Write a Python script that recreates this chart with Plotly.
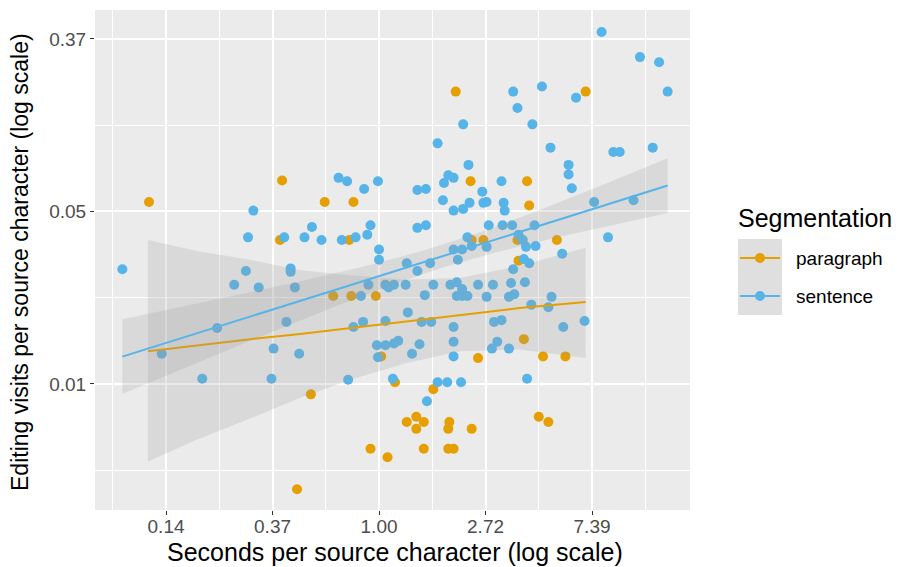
import numpy as np
import plotly.graph_objects as go

# Natural-log values (axes use a log transform)
sent_log_sec = [-2.41, -2.04, -1.66, -1.52, -1.36, -1.25, -1.23, -1.18, -1.13, -1.01,
                -0.99, -0.87, -0.83, -0.83, -0.89, -0.79, -0.75, -0.70, -0.63, -0.54,
                -0.38, -0.30, -0.35, -0.29, -0.24, -0.22, -0.17, -0.14, -0.11, -0.10,
                -0.08, -0.15, -0.01, 0.00, 0.00, -0.01, -0.02, 0.06, 0.06, 0.09,
                0.14, 0.06, 0.14, 0.13, 0.18, 0.25, 0.26, 0.27, 0.31, 0.36,
                0.44, 0.36, 0.44, 0.36, 0.38, 0.40, 0.49, 0.43, 0.45, 0.48,
                0.51, 0.55, 0.55, 0.60, 0.61, 0.65, 0.70, 0.64, 0.67, 0.73,
                0.70, 0.79, 0.70, 0.78, 0.74, 0.78, 0.73, 0.78, 0.83, 0.70,
                0.70, 0.70, 0.77, 0.79, 0.84, 0.83, 0.87, 0.85, 0.93, 0.97,
                0.98, 1.01, 1.01, 1.01, 1.03, 1.07, 1.08, 1.15, 1.11, 1.06,
                1.15, 1.17, 1.18, 1.16, 1.25, 1.22, 1.27, 1.22, 1.24, 1.26,
                1.26, 1.30, 1.31, 1.35, 1.36, 1.41, 1.37, 1.38, 1.47, 1.46,
                1.44, 1.39, 1.43, 1.53, 1.61, 1.59, 1.62, 1.72, 1.73, 1.78,
                1.78, 1.81, 1.85, 1.93, 2.02, 2.09, 2.15, 2.20, 2.26, 2.39,
                2.45, 2.57, 2.63, 2.71]
sent_log_visits = [-3.67, -4.65, -4.94, -4.35, -3.85, -3.69, -3.30, -2.99, -3.88, -4.94,
                   -4.59, -4.28, -3.66, -3.70, -3.30, -3.88, -4.65, -3.30, -3.18, -3.33,
                   -2.61, -2.65, -3.33, -4.95, -4.34, -3.30, -3.98, -2.74, -3.27, -3.85,
                   -3.16, -4.28, -2.65, -3.44, -3.56, -4.69, -4.55, -4.55, -3.85, -3.88,
                   -3.85, -4.27, -4.53, -4.94, -4.50, -3.85, -3.60, -4.17, -4.65, -2.75,
                   -2.74, -3.19, -3.16, -3.69, -4.54, -4.28, -4.28, -3.97, -5.20, -3.60,
                   -3.85, -2.21, -4.98, -2.87, -2.67, -2.58, -2.61, -4.98, -3.85, -3.82,
                   -2.99, -2.97, -3.44, -3.44, -3.56, -3.90, -3.98, -3.98, -3.98, -4.34,
                   -4.51, -4.68, -4.98, -1.99, -2.46, -3.30, -3.40, -2.90, -3.85, -2.77,
                   -2.90, -2.89, -3.99, -3.41, -3.16, -3.85, -4.28, -4.26, -4.51, -4.59,
                   -2.65, -2.90, -2.99, -3.16, -3.16, -3.99, -3.96, -4.59, -3.83, -3.67,
                   -1.61, -1.80, -3.27, -3.33, -3.55, -3.60, -3.82, -3.41, -3.40, -3.16,
                   -1.99, -4.94, -4.08, -1.55, -2.26, -4.11, -3.99, -3.49, -4.34, -2.46,
                   -2.57, -2.73, -1.68, -4.27, -2.89, -0.92, -3.30, -2.31, -2.31, -2.87,
                   -1.21, -2.26, -1.27, -1.61]

para_log_sec = [-2.16, -0.91, -0.93, -0.51, -0.24, -0.28, -0.43, -0.26, -0.03, -0.64,
                -0.77, -0.08, 0.08, 0.02, 0.15, 0.51, 0.26, 0.35, 0.42, 0.35,
                0.66, 0.65, 0.87, 0.42, 0.65, 0.70, 0.72, 0.86, 1.39, 1.41,
                0.87, 0.98, 1.30, 1.31, 1.36, 0.93, 1.54, 1.75, 1.50, 1.59,
                1.67, 1.94]
para_log_visits = [-2.89, -2.64, -3.33, -2.89, -2.89, -3.33, -3.98, -3.98, -3.98, -5.12,
                   -6.22, -5.75, -5.85, -4.68, -4.98, -5.06, -5.44, -5.38, -5.44, -5.52,
                   -5.44, -5.52, -5.52, -5.75, -5.75, -5.75, -1.61, -2.65, -2.65, -2.93,
                   -3.33, -3.33, -3.33, -3.57, -4.48, -4.70, -4.68, -4.68, -5.38, -5.44,
                   -3.33, -1.61]

# Paragraph smoother (fit line and 95% band)
para_fit_x = [-2.17, -1.70, -1.21, -0.74, -0.27, 0.25, 0.76, 1.32, 1.94]
para_fit_mid = [-4.62, -4.55, -4.48, -4.42, -4.35, -4.28, -4.20, -4.12, -4.05]
para_fit_lo = [-5.90, -5.64, -5.40, -5.16, -4.95, -4.76, -4.62, -4.60, -4.70]
para_fit_hi = [-3.33, -3.46, -3.56, -3.68, -3.74, -3.79, -3.77, -3.63, -3.42]

x_tick_vals = [-2, -1, 0, 1, 2]
x_tick_labels = ["0.14", "0.37", "1.00", "2.72", "7.39"]
y_tick_vals = [-5, -3, -1]
y_tick_labels = ["0.01", "0.05", "0.37"]
legend_labels = ["paragraph", "sentence"]

PARA_COLOR = "#E69F00"
SENT_COLOR = "#56B4E9"
RIBBON = "rgba(153,153,153,0.22)"
FONT = "Liberation Sans, Arial, sans-serif"

OFF = 8  # page body margin of the rendered page
W, H = 906 - OFF, 567 - OFF
L, R, T, B = 95 - OFF, 690 - OFF, 10 - OFF, 510 - OFF


def t975(df):
    z = 1.959964
    return z + (z**3 + z) / (4 * df) + (5 * z**5 + 16 * z**3 + 3 * z) / (96 * df**2)


def lm_band(x, y, n=80):
    x = np.asarray(x, float)
    y = np.asarray(y, float)
    b, a = np.polyfit(x, y, 1)
    xs = np.linspace(x.min(), x.max(), n)
    yhat = a + b * xs
    resid = y - (a + b * x)
    s = np.sqrt((resid ** 2).sum() / (len(x) - 2))
    sxx = ((x - x.mean()) ** 2).sum()
    se = s * np.sqrt(1 / len(x) + (xs - x.mean()) ** 2 / sxx)
    t = t975(len(x) - 2)
    return xs, yhat, yhat - t * se, yhat + t * se


fig = go.Figure()
fig.add_trace(go.Scatter(x=para_log_sec, y=para_log_visits, mode="markers",
                         marker=dict(color=PARA_COLOR, size=10, line=dict(width=0)),
                         showlegend=False))
fig.add_trace(go.Scatter(x=sent_log_sec, y=sent_log_visits, mode="markers",
                         marker=dict(color=SENT_COLOR, size=10, line=dict(width=0)),
                         showlegend=False))

# paragraph smoother
fig.add_trace(go.Scatter(x=para_fit_x + para_fit_x[::-1], y=para_fit_hi + para_fit_lo[::-1],
                         fill="toself", fillcolor=RIBBON, line=dict(width=0),
                         mode="lines", hoverinfo="skip", showlegend=False))
fig.add_trace(go.Scatter(x=para_fit_x, y=para_fit_mid, mode="lines",
                         line=dict(color=PARA_COLOR, width=2), showlegend=False))

# sentence smoother (linear fit with 95% band computed from the points)
xs, yh, lo, hi = lm_band(sent_log_sec, sent_log_visits)
fig.add_trace(go.Scatter(x=list(xs) + list(xs[::-1]), y=list(hi) + list(lo[::-1]),
                         fill="toself", fillcolor=RIBBON, line=dict(width=0),
                         mode="lines", hoverinfo="skip", showlegend=False))
fig.add_trace(go.Scatter(x=xs, y=yh, mode="lines", line=dict(color=SENT_COLOR, width=2),
                         showlegend=False))


def px_x(p):
    return (p - OFF - L) / (R - L)


def px_y(p):
    return (B - (p - OFF)) / (B - T)


shapes = []
annotations = []
key_rows = [(239, 277, PARA_COLOR), (277, 315, SENT_COLOR)]
for (y0, y1, col), lab in zip(key_rows, legend_labels):
    cy = (y0 + y1) / 2
    shapes.append(dict(type="rect", xref="paper", yref="paper",
                       x0=px_x(738), x1=px_x(782), y0=px_y(y1), y1=px_y(y0),
                       fillcolor="#F2F2F2", line=dict(width=0), layer="above"))
    shapes.append(dict(type="rect", xref="paper", yref="paper",
                       x0=px_x(738), x1=px_x(782), y0=px_y(y1), y1=px_y(y0),
                       fillcolor=RIBBON, line=dict(width=0), layer="above"))
    shapes.append(dict(type="line", xref="paper", yref="paper",
                       x0=px_x(740), x1=px_x(780), y0=px_y(cy), y1=px_y(cy),
                       line=dict(color=col, width=2), layer="above"))
    shapes.append(dict(type="circle", xref="paper", yref="paper",
                       x0=px_x(755), x1=px_x(765), y0=px_y(cy + 5), y1=px_y(cy - 5),
                       fillcolor=col, line=dict(width=0), layer="above"))
    annotations.append(dict(text=lab, xref="paper", yref="paper", x=px_x(794), y=px_y(cy),
                            xanchor="left", yanchor="middle", showarrow=False,
                            font=dict(family=FONT, size=19, color="black")))

annotations.append(dict(text="Segmentation", xref="paper", yref="paper", x=px_x(736), y=px_y(218),
                        xanchor="left", yanchor="middle", showarrow=False,
                        font=dict(family=FONT, size=25, color="black")))
annotations.append(dict(text="Seconds per source character (log scale)", xref="paper",
                        yref="paper", x=px_x(395), y=px_y(552), xanchor="center", yanchor="middle",
                        showarrow=False, font=dict(family=FONT, size=25, color="black")))
annotations.append(dict(text="Editing visits per source character (log scale)", xref="paper",
                        yref="paper", x=px_x(20), y=px_y(262), xanchor="center", yanchor="middle",
                        textangle=-90, showarrow=False,
                        font=dict(family=FONT, size=23, color="black")))

axis_common = dict(showgrid=True, gridcolor="white", gridwidth=2, zeroline=False,
                   ticks="outside", ticklen=4, tickcolor="#333333", tickwidth=1,
                   tickfont=dict(family=FONT, size=19, color="#4D4D4D"),
                   showline=False, automargin=False)

fig.update_layout(
    width=W, height=H,
    margin=dict(l=L, r=W - R, t=T, b=H - B),
    plot_bgcolor="#EBEBEB", paper_bgcolor="white",
    showlegend=False,
    xaxis=dict(range=[-2.667, 2.92], tickmode="array", tickvals=x_tick_vals,
               ticktext=x_tick_labels, ticklabelstandoff=-5,
               minor=dict(tick0=-2.5, dtick=1, showgrid=True, gridcolor="white",
                          gridwidth=1, ticks=""),
               **axis_common),
    yaxis=dict(range=[-6.461, -0.664], tickmode="array", tickvals=y_tick_vals,
               ticktext=y_tick_labels,
               minor=dict(tick0=-2, dtick=2, showgrid=True, gridcolor="white",
                          gridwidth=1, ticks=""),
               **axis_common),
    shapes=shapes,
    annotations=annotations,
)

fig.write_html("out.html")
